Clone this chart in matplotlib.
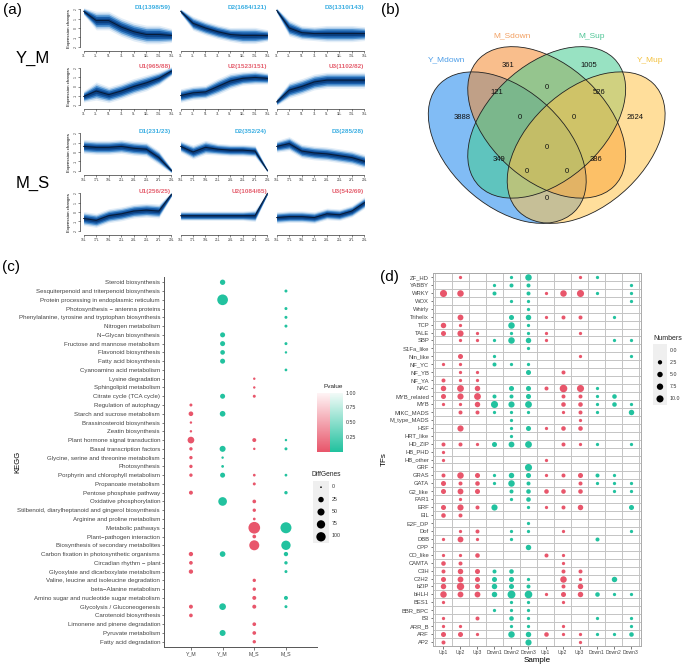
import numpy as np
import matplotlib
matplotlib.use('Agg')
import matplotlib.pyplot as plt
from matplotlib.patches import Ellipse, Rectangle
from matplotlib.colors import LinearSegmentedColormap

plt.rcParams['font.family'] = ['Liberation Sans', 'DejaVu Sans']

W, H = 683, 665
fig = plt.figure(figsize=(W / 100, H / 100), dpi=100)


def rect(x0, y0, x1, y1):
    return [x0 / W, 1 - y1 / H, (x1 - x0) / W, (y1 - y0) / H]


def ftext(x, y, s, **kw):
    fig.text(x / W, 1 - y / H, s, **kw)


# ---------------------------------------------------------------- (a) data
ym_times = ['1L', '3L', '5L', '7L', '9L', '11L', '13L', '15L']
ms_times = ['15L', '17L', '19L', '21L', '23L', '25L', '27L', '29L']
ym_titles = ['D1(1398/59)', 'D2(1684/121)', 'D3(1310/143)',
             'U1(965/88)', 'U2(1523/151)', 'U3(1102/82)']
ms_titles = ['D1(231/23)', 'D2(352/24)', 'D3(285/28)',
             'U1(256/25)', 'U2(1084/65)', 'U3(542/69)']

ym_d1 = [1.8, 0.8, 0.8, 0.1, -0.4, -0.7, -0.7, -0.8]
ym_d2 = [1.8, 0.5, 0.0, -0.4, -0.7, -0.8, -0.8, -0.8]
ym_d3 = [1.9, 0.0, -0.5, -0.6, -0.6, -0.6, -0.6, -0.6]
ym_u1 = [-1.1, -0.5, -0.9, -0.5, 0.0, 0.4, 0.9, 1.7]
ym_u2 = [-1.0, -0.7, -0.6, 0.0, 0.6, 0.9, 1.0, 0.9]
ym_u3 = [-1.7, -0.4, 0.0, 0.5, 0.7, 0.7, 0.7, 0.7]
ms_d1 = [0.6, 0.5, 0.5, 0.6, 0.4, 0.3, -0.6, -2.0]
ms_d2 = [0.6, 0.0, 0.5, 0.3, 0.2, 0.2, 0.1, -2.0]
ms_d3 = [0.6, 0.9, 0.1, -0.1, -0.2, -0.4, -0.6, -1.0]
ms_u1 = [-0.7, -0.9, -0.4, -0.2, 0.1, 0.2, 0.1, 1.9]
ms_u2 = [-0.4, -0.4, -0.4, -0.4, -0.4, -0.4, -0.4, 2.0]
ms_u3 = [-0.6, -0.5, -0.5, -0.6, -0.2, -0.3, 0.1, 1.0]

# spread (outer envelope half-width) read from the fans
sp_ym_d1 = [0.3, 0.8, 0.8, 0.8, 0.8, 0.8, 0.8, 0.6]
sp_ym_d2 = [0.2, 0.6, 0.6, 0.6, 0.6, 0.7, 0.7, 0.5]
sp_ym_d3 = [0.2, 0.7, 0.6, 0.6, 0.7, 0.7, 0.7, 0.6]
sp_ym_u1 = [0.5, 0.8, 0.7, 0.7, 0.7, 0.7, 0.6, 0.4]
sp_ym_u2 = [0.6, 0.6, 0.6, 0.7, 0.7, 0.6, 0.6, 0.5]
sp_ym_u3 = [0.3, 0.7, 0.7, 0.7, 0.7, 0.7, 0.7, 0.7]
sp_ms_d1 = [0.6, 0.6, 0.6, 0.6, 0.6, 0.6, 0.6, 0.2]
sp_ms_d2 = [0.5, 0.6, 0.6, 0.5, 0.5, 0.5, 0.5, 0.1]
sp_ms_d3 = [0.5, 0.6, 0.6, 0.6, 0.6, 0.6, 0.6, 0.6]
sp_ms_u1 = [0.6, 0.6, 0.6, 0.6, 0.6, 0.6, 0.6, 0.2]
sp_ms_u2 = [0.4, 0.4, 0.4, 0.4, 0.4, 0.4, 0.5, 0.1]
sp_ms_u3 = [0.5, 0.5, 0.5, 0.5, 0.5, 0.5, 0.5, 0.5]

# ---------------------------------------------------------------- (b) data
venn_sets = ['Y_Mdown', 'M_Sdown', 'M_Sup', 'Y_Mup']
venn_counts = {'1000': 3888, '0100': 361, '0010': 1005, '0001': 2624,
               '1100': 121, '0110': 0, '0011': 526,
               '1110': 0, '0111': 0, '1111': 0,
               '1010': 349, '0101': 386,
               '1011': 0, '1101': 0, '1001': 0}

# ---------------------------------------------------------------- (c) data
kegg_terms = [
    'Steroid biosynthesis', 'Sesquiterpenoid and triterpenoid biosynthesis',
    'Protein processing in endoplasmic reticulum', 'Photosynthesis \u2212 antenna proteins',
    'Phenylalanine, tyrosine and tryptophan biosynthesis', 'Nitrogen metabolism',
    'N\u2212Glycan biosynthesis', 'Fructose and mannose metabolism', 'Flavonoid biosynthesis',
    'Fatty acid biosynthesis', 'Cyanoamino acid metabolism', 'Lysine degradation',
    'Sphingolipid metabolism', 'Citrate cycle (TCA cycle)', 'Regulation of autophagy',
    'Starch and sucrose metabolism', 'Brassinosteroid biosynthesis', 'Zeatin biosynthesis',
    'Plant hormone signal transduction', 'Basal transcription factors',
    'Glycine, serine and threonine metabolism', 'Photosynthesis',
    'Porphyrin and chlorophyll metabolism', 'Propanoate metabolism',
    'Pentose phosphate pathway', 'Oxidative phosphorylation',
    'Stilbenoid, diarylheptanoid and gingerol biosynthesis',
    'Arginine and proline metabolism', 'Metabolic pathways',
    'Plant\u2212pathogen interaction', 'Biosynthesis of secondary metabolites',
    'Carbon fixation in photosynthetic organisms', 'Circadian rhythm \u2212 plant',
    'Glyoxylate and dicarboxylate metabolism', 'Valine, leucine and isoleucine degradation',
    'beta\u2212Alanine metabolism', 'Amino sugar and nucleotide sugar metabolism',
    'Glycolysis / Gluconeogenesis', 'Carotenoid biosynthesis',
    'Limonene and pinene degradation', 'Pyruvate metabolism', 'Fatty acid degradation']
kegg_xlabels = ['Y_M', 'Y_M', 'M_S', 'M_S']
# DiffGenes per term (index into kegg_terms) for each column
kegg_ym_up = {14: 3, 15: 15, 16: 1, 17: 1, 18: 43, 19: 5, 20: 5, 21: 5, 22: 5, 24: 9,
              31: 12, 32: 7, 33: 12, 37: 9, 38: 7}
kegg_ym_down = {0: 23, 2: 138, 6: 19, 7: 19, 8: 15, 9: 19, 13: 19, 15: 27, 19: 32,
                20: 1, 21: 2, 22: 19, 25: 83, 31: 27, 37: 43, 40: 32}
kegg_ms_up = {11: 1, 12: 1, 13: 3, 18: 9, 19: 1, 22: 2, 23: 3, 25: 7, 26: 5, 27: 2,
              28: 170, 29: 7, 30: 118, 34: 5, 35: 5, 36: 9, 37: 9, 39: 7, 40: 7, 41: 5}
kegg_ms_down = {1: 3, 3: 3, 4: 3, 5: 3, 7: 3, 8: 1, 10: 2, 18: 1, 19: 3, 22: 2, 24: 5,
                28: 148, 30: 100, 31: 12, 32: 5, 33: 3, 36: 9, 37: 3}
diffgenes_breaks = [0, 25, 50, 75, 100]
pvalue_breaks = [1.00, 0.75, 0.50, 0.25]

# ---------------------------------------------------------------- (d) data
tf_names = ['ZF_HD', 'YABBY', 'WRKY', 'WOX', 'Whirly', 'Trihelix', 'TCP', 'TALE', 'SBP',
            'S1Fa_like', 'Nin_like', 'NF_YC', 'NF_YB', 'NF_YA', 'NAC', 'MYB_related', 'MYB',
            'MIKC_MADS', 'M_type_MADS', 'HSF', 'HRT_like', 'HD_ZIP', 'HB_PHD', 'HB_other',
            'GRF', 'GRAS', 'GATA', 'G2_like', 'FAR1', 'ERF', 'EIL', 'E2F_DP', 'Dof', 'DBB',
            'CPP', 'CO_like', 'CAMTA', 'C3H', 'C2H2', 'bZIP', 'bHLH', 'BES1', 'BBR_BPC', 'B3',
            'ARR_B', 'ARF', 'AP2']
samples = ['Up1', 'Up2', 'Up3', 'Down1', 'Down2', 'Down3',
           'Up1', 'Up2', 'Up3', 'Down1', 'Down2', 'Down3']
tf_counts = {
    'ZF_HD': [0, 1, 0, 0, 1, 8, 0, 0, 1, 1, 0, 0],
    'YABBY': [0, 0, 0, 1, 2, 2, 0, 0, 0, 0, 0, 1],
    'WRKY': [10, 8, 0, 2, 0, 2, 1, 8, 10, 1, 0, 1],
    'WOX': [0, 0, 0, 0, 1, 1, 0, 0, 0, 0, 0, 1],
    'Whirly': [0, 0, 0, 0, 0, 1, 0, 0, 0, 0, 0, 0],
    'Trihelix': [0, 6, 0, 0, 4, 5, 1, 2, 2, 0, 1, 0],
    'TCP': [5, 1, 0, 0, 8, 1, 0, 0, 0, 0, 0, 0],
    'TALE': [4, 7, 1, 0, 1, 1, 1, 0, 1, 0, 0, 0],
    'SBP': [0, 1, 1, 1, 8, 5, 1, 0, 0, 0, 1, 1],
    'S1Fa_like': [0, 0, 0, 0, 0, 1, 0, 0, 0, 0, 0, 0],
    'Nin_like': [0, 4, 0, 1, 0, 0, 0, 0, 1, 0, 0, 1],
    'NF_YC': [1, 1, 0, 2, 1, 1, 0, 0, 0, 0, 0, 0],
    'NF_YB': [0, 1, 1, 0, 0, 4, 0, 2, 0, 0, 0, 0],
    'NF_YA': [2, 1, 1, 0, 0, 0, 0, 0, 0, 0, 0, 0],
    'NAC': [5, 9, 5, 0, 4, 4, 2, 12, 10, 1, 0, 0],
    'MYB_related': [4, 7, 9, 2, 2, 4, 0, 2, 2, 1, 3, 0],
    'MYB': [1, 1, 5, 10, 7, 9, 0, 3, 3, 1, 3, 1],
    'MIKC_MADS': [0, 2, 2, 1, 1, 1, 0, 1, 2, 1, 0, 5],
    'M_type_MADS': [0, 0, 0, 0, 1, 0, 0, 0, 1, 0, 0, 0],
    'HSF': [0, 7, 0, 0, 1, 4, 1, 3, 3, 0, 0, 0],
    'HRT_like': [0, 0, 0, 0, 1, 0, 0, 0, 0, 0, 0, 0],
    'HD_ZIP': [2, 2, 1, 4, 6, 9, 0, 2, 1, 1, 0, 1],
    'HB_PHD': [1, 0, 0, 0, 0, 0, 0, 0, 0, 0, 0, 0],
    'HB_other': [1, 0, 0, 0, 0, 0, 1, 0, 0, 0, 0, 0],
    'GRF': [0, 0, 0, 0, 0, 10, 0, 0, 0, 0, 0, 0],
    'GRAS': [2, 8, 4, 1, 5, 4, 1, 2, 4, 2, 1, 0],
    'GATA': [4, 2, 3, 1, 8, 2, 0, 0, 2, 1, 1, 1],
    'G2_like': [4, 6, 4, 0, 2, 3, 3, 3, 3, 0, 1, 1],
    'FAR1': [0, 1, 0, 0, 1, 3, 0, 0, 0, 0, 0, 0],
    'ERF': [4, 7, 2, 7, 0, 1, 1, 2, 5, 0, 0, 4],
    'EIL': [3, 2, 0, 0, 0, 0, 0, 0, 0, 0, 0, 0],
    'E2F_DP': [0, 0, 0, 0, 0, 1, 0, 0, 0, 0, 0, 0],
    'Dof': [0, 1, 2, 0, 1, 1, 0, 1, 0, 0, 0, 1],
    'DBB': [1, 6, 1, 0, 1, 0, 0, 0, 0, 2, 0, 0],
    'CPP': [0, 0, 0, 0, 0, 5, 0, 0, 0, 0, 0, 0],
    'CO_like': [1, 1, 3, 0, 0, 0, 2, 1, 0, 0, 0, 0],
    'CAMTA': [3, 2, 0, 0, 0, 0, 0, 1, 0, 0, 0, 0],
    'C3H': [2, 5, 4, 2, 3, 0, 0, 2, 2, 0, 0, 0],
    'C2H2': [4, 6, 4, 4, 4, 1, 0, 8, 1, 0, 5, 0],
    'bZIP': [5, 11, 4, 5, 4, 2, 0, 2, 5, 0, 0, 0],
    'bHLH': [8, 6, 6, 5, 13, 12, 1, 4, 5, 3, 1, 1],
    'BES1': [1, 0, 0, 0, 1, 1, 0, 1, 0, 0, 0, 0],
    'BBR_BPC': [0, 0, 0, 1, 1, 1, 0, 0, 0, 0, 0, 0],
    'B3': [1, 0, 2, 0, 3, 1, 0, 0, 0, 1, 0, 1],
    'ARR_B': [1, 1, 0, 0, 1, 1, 0, 1, 0, 0, 0, 1],
    'ARF': [4, 4, 1, 0, 8, 5, 3, 1, 1, 1, 1, 3],
    'AP2': [2, 0, 0, 0, 0, 7, 0, 0, 1, 0, 0, 0],
}
numbers_breaks = [0.0, 2.5, 5.0, 7.5, 10.0]

RED = '#E8566B'
GREEN = '#22C29F'
D_COL = '#3AAEE2'
U_COL = '#E5606F'

# ================================================================ (a)
ftext(3, 10, '(a)', fontsize=11, va='center', ha='left')
ftext(33, 58, 'Y_M', fontsize=12, va='center', ha='center')
ftext(33, 183, 'M_S', fontsize=12, va='center', ha='center')

rows_px = [(8, 48), (67, 106), (132, 172), (192, 232)]
cols_px = [(83, 172), (180, 268), (276, 365)]
panel_rows = [
    (ym_times, [ym_d1, ym_d2, ym_d3], [sp_ym_d1, sp_ym_d2, sp_ym_d3], ym_titles[:3], D_COL),
    (ym_times, [ym_u1, ym_u2, ym_u3], [sp_ym_u1, sp_ym_u2, sp_ym_u3], ym_titles[3:], U_COL),
    (ms_times, [ms_d1, ms_d2, ms_d3], [sp_ms_d1, sp_ms_d2, sp_ms_d3], ms_titles[:3], D_COL),
    (ms_times, [ms_u1, ms_u2, ms_u3], [sp_ms_u1, sp_ms_u2, sp_ms_u3], ms_titles[3:], U_COL),
]
band_fracs = [1.25, 1.0, 0.78, 0.55, 0.3]
band_cols = ['#E3EEF8', '#A9CAE9', '#4F92D0', '#1A5EAA', '#0A3F80']
for (ry0, ry1), (times, centres, spreads, titles, tcol) in zip(rows_px, panel_rows):
    for ci, ((cx0, cx1), cen, spr, title) in enumerate(zip(cols_px, centres, spreads, titles)):
        ax = fig.add_axes(rect(cx0, ry0, cx1, ry1))
        x = np.arange(len(times))
        c = np.array(cen)
        s = np.array(spr)
        for f, bc in zip(band_fracs, band_cols):
            ax.fill_between(x, c - f * s, c + f * s, color=bc, lw=0)
        ax.plot(x, c, color='#071A36', lw=0.7)
        ax.set_xlim(-0.05, len(times) - 0.95)
        ax.set_ylim(-2.15, 2.15)
        for sp in ['top', 'right']:
            ax.spines[sp].set_visible(False)
        ax.spines['bottom'].set_position(('outward', 2))
        ax.spines['bottom'].set_bounds(0, len(times) - 1)
        ax.spines['bottom'].set_linewidth(0.4)
        if ci == 0:
            ax.spines['left'].set_position(('outward', 2))
            ax.spines['left'].set_bounds(-2, 2)
            ax.spines['left'].set_linewidth(0.4)
            ax.set_yticks([-2, -1, 0, 1, 2])
            ax.set_yticklabels(['-2', '-1', '0', '1', '2'])
            ax.set_ylabel('Expression changes', fontsize=3.2, labelpad=1.5)
        else:
            ax.spines['left'].set_visible(False)
            ax.set_yticks([])
        ax.set_xticks(x)
        ax.set_xticklabels(times)
        ax.tick_params(axis='both', length=1.2, width=0.4, pad=0.8, colors='#333333',
                       labelsize=2.4)
        if ci == 0:
            for lab in ax.get_yticklabels():
                lab.set_rotation(90)
                lab.set_va('center')
        ax.patch.set_alpha(0)
        ax.text(0.99, 1.02, title, transform=ax.transAxes, ha='right', va='center',
                color=tcol, fontsize=4.6, fontweight='bold')

# ================================================================ (b)
ftext(381, 10, '(b)', fontsize=11, va='center', ha='left')
axb = fig.add_axes(rect(415.2, 13.9, 678.2, 266.2))
axb.set_xlim(0, 1)
axb.set_ylim(0, 1)
axb.axis('off')
ell_specs = [((0.35, 0.47), -45, '#1A86EE'), ((0.50, 0.57), -45, '#F58A2E'),
             ((0.50, 0.57), 45, '#43CB91'), ((0.65, 0.47), 45, '#FFC34A')]
for (cxy, ang, col) in ell_specs:
    axb.add_patch(Ellipse(cxy, 0.72, 0.45, angle=ang, facecolor=col, alpha=0.55,
                          edgecolor='none'))
for (cxy, ang, col) in ell_specs:
    axb.add_patch(Ellipse(cxy, 0.72, 0.45, angle=ang, facecolor='none',
                          edgecolor='#222222', lw=0.6))
count_pos = {'1000': (0.178, 0.591), '0100': (0.353, 0.794), '0010': (0.661, 0.794),
             '0001': (0.836, 0.591), '1100': (0.311, 0.687), '0110': (0.501, 0.710),
             '0011': (0.699, 0.687), '1110': (0.399, 0.591), '0111': (0.604, 0.591),
             '1111': (0.501, 0.472), '1010': (0.319, 0.421), '0101': (0.687, 0.421),
             '1011': (0.425, 0.377), '1101': (0.577, 0.377), '1001': (0.501, 0.270)}
for key, val in venn_counts.items():
    px, py = count_pos[key]
    axb.text(px, py, str(val), ha='center', va='center', fontsize=5.5, color='#111111')
set_pos = [(0.121, 0.817), (0.368, 0.912), (0.672, 0.912), (0.893, 0.817)]
set_cols = ['#4E9EE8', '#F2A062', '#4FC596', '#F3C13E']
for name, (px, py), col in zip(venn_sets, set_pos, set_cols):
    axb.text(px, py, name, ha='center', va='center', fontsize=6, color=col)

# ================================================================ (c)
ftext(2, 267, '(c)', fontsize=11, va='center', ha='left')
axc = fig.add_axes(rect(164, 277, 317, 647))
nk = len(kegg_terms)


def size_c(v):
    d_px = 1.67 + 0.767 * np.sqrt(v)
    return (d_px * 0.72) ** 2


for xi, (vals, col) in enumerate(zip([kegg_ym_up, kegg_ym_down, kegg_ms_up, kegg_ms_down],
                                     [RED, GREEN, RED, GREEN])):
    idx = np.array(list(vals.keys()))
    v = np.array(list(vals.values()), dtype=float)
    axc.scatter(np.full(len(idx), xi + 1), idx, s=size_c(v), color=col, lw=0, zorder=3)
axc.set_ylim(nk - 1 + 0.6, -0.6)
axc.set_xlim(0.15, 4.98)
axc.set_yticks(range(nk))
axc.set_yticklabels(kegg_terms, fontsize=4.4, color='#222222')
axc.set_xticks([1, 2, 3, 4])
axc.set_xticklabels(kegg_xlabels, fontsize=3.8, color='#444444')
for sp in ['top', 'right']:
    axc.spines[sp].set_visible(False)
for sp in ['left', 'bottom']:
    axc.spines[sp].set_linewidth(0.7)
    axc.spines[sp].set_color('#555555')
axc.tick_params(axis='both', length=1.8, width=0.5, pad=1, colors='#444444')
axc.set_ylabel('KEGG', fontsize=5.5, labelpad=0)
axc.yaxis.set_label_coords(-0.935, 0.5)

# Pvalue legend
ftext(323, 387, 'Pvalue', fontsize=4.6, ha='left', va='center', color='#222222')
axpv = fig.add_axes(rect(317, 393, 342, 452))
grad = np.linspace(1, 0, 100).reshape(-1, 1)
cm_r = LinearSegmentedColormap.from_list('r', [RED, '#FFF4F5'])
cm_g = LinearSegmentedColormap.from_list('g', [GREEN, '#F2FBF8'])
axpv.imshow(grad, cmap=cm_r, extent=[0, 0.5, 0, 1], aspect='auto', vmin=0, vmax=1)
axpv.imshow(grad, cmap=cm_g, extent=[0.5, 1, 0, 1], aspect='auto', vmin=0, vmax=1)
axpv.set_xlim(0, 1)
axpv.set_ylim(0, 1)
axpv.axis('off')
for b in pvalue_breaks:
    ftext(346, 393 + (1 - b) * 59, '%.2f' % b, fontsize=3.8, va='center', ha='left',
          color='#333333')

# DiffGenes legend
ftext(312, 475, 'DiffGenes', fontsize=4.8, ha='left', va='center', color='#222222')
axdg = fig.add_axes(rect(313, 481, 329, 543))
axdg.set_xlim(0, 1)
axdg.set_ylim(len(diffgenes_breaks) - 0.5, -0.5)
axdg.axis('off')
axdg.add_patch(Rectangle((0, -0.5), 1, len(diffgenes_breaks), color='#EFEFEF', lw=0))
axdg.scatter(np.full(len(diffgenes_breaks), 0.5), range(len(diffgenes_breaks)),
             s=size_c(np.array(diffgenes_breaks, dtype=float)), color='black', lw=0)
for i, b in enumerate(diffgenes_breaks):
    ftext(332, 487 + i * 12.2, str(b), fontsize=3.8, va='center', ha='left', color='#333333')

# ================================================================ (d)
ftext(380, 277, '(d)', fontsize=11, va='center', ha='left')
axd = fig.add_axes(rect(433, 273, 641, 646))
nt = len(tf_names)
ns = len(samples)


def size_d(v):
    d_px = 1.5 + 1.77 * np.sqrt(v)
    return (d_px * 0.72) ** 2


for ti, name in enumerate(tf_names):
    vals = np.array(tf_counts[name], dtype=float)
    for si in range(ns):
        if vals[si] > 0:
            col = RED if samples[si].startswith('Up') else GREEN
            axd.scatter(si + 1, ti, s=size_d(vals[si]), color=col, lw=0, zorder=3)
for k in range(ns + 1):
    axd.axvline(k + 0.5, color='#C4C4C4', lw=0.7, zorder=1)
for k in range(nt + 1):
    axd.axhline(k - 0.5, color='#C4C4C4', lw=0.7, zorder=1)
axd.set_xlim(0.4, ns + 0.6)
axd.set_ylim(nt - 1 + 0.5, -0.5)
axd.set_yticks(range(nt))
axd.set_yticklabels(tf_names, fontsize=4.2, color='#222222')
axd.set_xticks(range(1, ns + 1))
axd.set_xticklabels(samples, fontsize=3.6, color='#333333')
for sp in axd.spines.values():
    sp.set_color('#AAAAAA')
    sp.set_linewidth(0.7)
axd.tick_params(axis='both', length=1.8, width=0.5, pad=1, colors='#444444')
axd.set_xlabel('Sample', fontsize=5.8, labelpad=1.5)
axd.set_ylabel('TFs', fontsize=5.8, labelpad=1.5)

# Numbers legend
ftext(653, 338, 'Numbers', fontsize=5, ha='left', va='center', color='#222222')
axnl = fig.add_axes(rect(653, 344, 667, 405))
axnl.set_xlim(0, 1)
axnl.set_ylim(len(numbers_breaks) - 0.5, -0.5)
axnl.axis('off')
axnl.add_patch(Rectangle((0, -0.5), 1, len(numbers_breaks), color='#EFEFEF', lw=0))
nb = np.array(numbers_breaks)
axnl.scatter(np.full(len(nb), 0.5)[nb > 0], np.arange(len(nb))[nb > 0],
             s=size_d(nb[nb > 0]), color='black', lw=0)
for i, b in enumerate(numbers_breaks):
    ftext(670, 350 + i * 12.2, '%.1f' % b, fontsize=3.8, va='center', ha='left', color='#333333')

fig.savefig('out.png', dpi=100)
